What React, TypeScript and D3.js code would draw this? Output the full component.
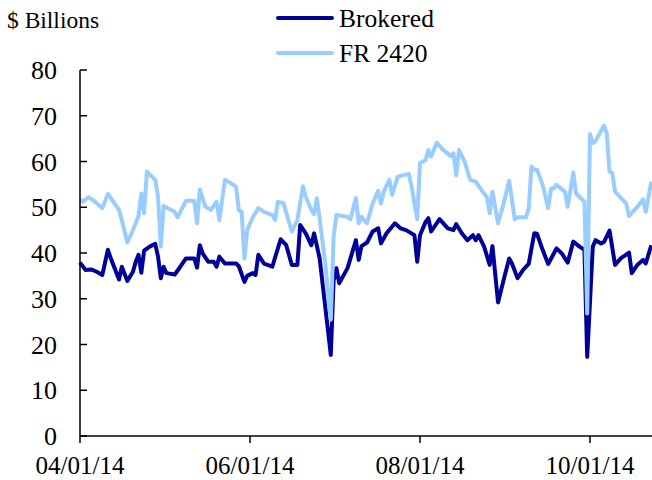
import React from "react";
import * as d3 from "d3";

const brokeredDates = ["2014-04-01","2014-04-03","2014-04-05","2014-04-07","2014-04-09","2014-04-11","2014-04-12","2014-04-15","2014-04-16","2014-04-18","2014-04-20","2014-04-21","2014-04-22","2014-04-23","2014-04-24","2014-04-26","2014-04-28","2014-04-29","2014-04-30","2014-05-01","2014-05-02","2014-05-05","2014-05-07","2014-05-09","2014-05-12","2014-05-13","2014-05-14","2014-05-15","2014-05-17","2014-05-19","2014-05-20","2014-05-21","2014-05-23","2014-05-27","2014-05-28","2014-05-30","2014-05-31","2014-06-02","2014-06-03","2014-06-04","2014-06-06","2014-06-09","2014-06-12","2014-06-14","2014-06-16","2014-06-18","2014-06-19","2014-06-21","2014-06-23","2014-06-24","2014-06-26","2014-06-30","2014-07-01","2014-07-02","2014-07-03","2014-07-06","2014-07-09","2014-07-10","2014-07-11","2014-07-13","2014-07-15","2014-07-17","2014-07-18","2014-07-20","2014-07-23","2014-07-25","2014-07-27","2014-07-30","2014-07-31","2014-08-01","2014-08-03","2014-08-04","2014-08-05","2014-08-08","2014-08-11","2014-08-13","2014-08-14","2014-08-16","2014-08-18","2014-08-20","2014-08-21","2014-08-22","2014-08-24","2014-08-26","2014-08-27","2014-08-29","2014-08-31","2014-09-02","2014-09-03","2014-09-05","2014-09-07","2014-09-09","2014-09-11","2014-09-12","2014-09-14","2014-09-16","2014-09-19","2014-09-21","2014-09-23","2014-09-25","2014-09-27","2014-09-29","2014-09-30","2014-10-02","2014-10-03","2014-10-05","2014-10-06","2014-10-08","2014-10-10","2014-10-12","2014-10-15","2014-10-16","2014-10-18","2014-10-20","2014-10-21","2014-10-23"];
const brokeredValues = [37.9,36.3,36.4,35.9,35.2,40.7,38.9,34.2,37.0,33.9,35.9,38.1,39.6,35.7,40.5,41.4,42.0,39.2,34.5,37.0,35.6,35.3,37.0,38.8,38.8,36.8,41.7,39.9,38.1,38.1,37.0,39.2,37.7,37.7,37.1,33.7,35.0,35.6,35.2,39.6,37.7,37.0,43.0,41.7,37.4,37.4,46.1,44.3,41.7,44.3,38.8,17.7,34.0,36.7,33.4,36.7,42.8,38.5,41.5,42.3,44.7,45.4,42.1,44.3,46.5,45.4,45.0,43.9,38.1,43.9,46.8,47.6,44.7,47.4,45.4,45.0,46.3,44.3,42.8,43.9,42.8,43.9,41.4,37.4,41.5,29.2,34.1,38.8,37.7,34.5,36.3,37.6,44.3,44.2,40.7,37.6,41.0,39.8,37.9,42.5,41.5,40.7,17.3,41.4,42.8,42.1,42.4,44.9,37.4,38.8,40.1,35.6,37.4,38.5,37.7,41.7];

const fr2420Dates = ["2014-04-01","2014-04-02","2014-04-04","2014-04-06","2014-04-09","2014-04-11","2014-04-13","2014-04-15","2014-04-16","2014-04-18","2014-04-20","2014-04-22","2014-04-23","2014-04-24","2014-04-25","2014-04-26","2014-04-28","2014-04-29","2014-04-30","2014-05-01","2014-05-03","2014-05-05","2014-05-06","2014-05-09","2014-05-12","2014-05-13","2014-05-14","2014-05-16","2014-05-18","2014-05-20","2014-05-21","2014-05-23","2014-05-25","2014-05-27","2014-05-28","2014-05-29","2014-05-30","2014-05-31","2014-06-02","2014-06-04","2014-06-06","2014-06-09","2014-06-10","2014-06-11","2014-06-13","2014-06-16","2014-06-18","2014-06-20","2014-06-21","2014-06-23","2014-06-24","2014-06-25","2014-06-26","2014-06-28","2014-06-30","2014-07-01","2014-07-02","2014-07-06","2014-07-07","2014-07-09","2014-07-10","2014-07-11","2014-07-13","2014-07-15","2014-07-17","2014-07-18","2014-07-19","2014-07-21","2014-07-22","2014-07-24","2014-07-28","2014-07-29","2014-07-31","2014-08-01","2014-08-03","2014-08-04","2014-08-05","2014-08-07","2014-08-09","2014-08-12","2014-08-13","2014-08-14","2014-08-15","2014-08-17","2014-08-19","2014-08-21","2014-08-23","2014-08-25","2014-08-26","2014-08-27","2014-08-29","2014-08-31","2014-09-02","2014-09-04","2014-09-05","2014-09-08","2014-09-09","2014-09-10","2014-09-11","2014-09-12","2014-09-14","2014-09-16","2014-09-17","2014-09-18","2014-09-19","2014-09-22","2014-09-23","2014-09-25","2014-09-26","2014-09-29","2014-09-30","2014-10-01","2014-10-02","2014-10-03","2014-10-06","2014-10-07","2014-10-08","2014-10-09","2014-10-10","2014-10-14","2014-10-15","2014-10-18","2014-10-20","2014-10-21","2014-10-23"];
const fr2420Values = [51.6,51.2,52.2,51.4,49.8,52.9,51.2,49.4,47.2,42.3,45.0,48.1,53.0,48.7,57.8,57.2,56.0,52.3,41.4,50.3,49.6,49.0,47.8,51.4,51.4,46.5,53.9,50.1,49.4,51.2,47.2,56.0,55.3,54.5,49.4,49.0,38.8,45.0,47.8,49.8,49.0,48.3,47.2,51.2,50.9,44.7,47.2,54.6,52.3,49.4,48.5,52.0,47.4,37.7,25.4,43.6,48.3,47.9,47.4,52.0,46.5,47.9,46.5,50.8,53.6,50.8,53.4,56.0,52.7,56.7,57.3,54.5,47.4,59.6,60.3,62.5,61.1,64.1,62.7,61.2,61.8,57.0,62.5,60.0,56.0,55.6,53.8,52.2,48.7,53.4,46.5,50.8,55.8,47.4,47.8,47.8,49.8,58.9,58.2,58.2,54.9,49.8,54.1,54.1,54.9,53.4,50.1,57.6,53.0,51.2,26.8,66.0,64.0,64.5,67.8,66.2,57.8,57.5,53.4,50.8,48.1,50.1,51.7,49.0,55.6];

const yTicks = [0, 10, 20, 30, 40, 50, 60, 70, 80];
const xTickDates = ["2014-04-01", "2014-06-01", "2014-08-01", "2014-10-01"];
const seriesNames = ["Brokered", "FR 2420"];
const yUnitLabel = "$ Billions";

const W = 652;
const H = 480;
const FONT = "'Liberation Serif', 'Times New Roman', Times, serif";
const DARK = "#000099";
const LIGHT = "#99CCFF";

const parse = d3.utcParse("%Y-%m-%d");
const fmt = d3.utcFormat("%m/%d/%y");

export default function App() {
  const x = d3
    .scaleUtc()
    .domain([parse("2014-04-01")!, parse("2014-10-01")!])
    .range([80, 590]);
  const y = d3.scaleLinear().domain([0, 80]).range([436, 70]);

  const brokered = brokeredDates.map((d, i) => ({ date: parse(d)!, value: brokeredValues[i] }));
  const fr = fr2420Dates.map((d, i) => ({ date: parse(d)!, value: fr2420Values[i] }));

  const line = d3
    .line<{ date: Date; value: number }>()
    .x((d) => x(d.date))
    .y((d) => y(d.value));

  return (
    <svg
      width={W}
      height={H}
      style={{ position: "absolute", left: 0, top: 0, background: "#fff" }}
      fontFamily={FONT}
    >
      <rect x={0} y={0} width={W} height={H} fill="#fff" />
      <text x={7} y={28} fontSize={23.5} fill="#000">
        {yUnitLabel}
      </text>

      {/* legend */}
      <line x1={278} x2={332} y1={18} y2={18} stroke={DARK} strokeWidth={4} strokeLinecap="round" />
      <text x={339} y={27} fontSize={25.5} fill="#000">
        {seriesNames[0]}
      </text>
      <line x1={278} x2={332} y1={53} y2={53} stroke={LIGHT} strokeWidth={4} strokeLinecap="round" />
      <text x={339} y={62} fontSize={25.5} fill="#000">
        {seriesNames[1]}
      </text>

      {/* series */}
      <path d={line(brokered) || ""} fill="none" stroke={DARK} strokeWidth={4} strokeLinejoin="round" />
      <path d={line(fr) || ""} fill="none" stroke={LIGHT} strokeWidth={4} strokeLinejoin="round" />

      {/* y axis */}
      <line x1={80} x2={80} y1={y(80)} y2={y(0)} stroke="#000" strokeWidth={1.5} />
      {yTicks.map((t) => (
        <g key={t}>
          <line x1={80} x2={87} y1={y(t)} y2={y(t)} stroke="#000" strokeWidth={1.5} />
          <text x={57} y={y(t)} dy="0.35em" textAnchor="end" fontSize={26} fill="#000">
            {t}
          </text>
        </g>
      ))}

      {/* x axis */}
      <line x1={80} x2={W} y1={y(0)} y2={y(0)} stroke="#000" strokeWidth={1.5} />
      {xTickDates.map((d) => {
        const xx = x(parse(d)!);
        return (
          <g key={d}>
            <line x1={xx} x2={xx} y1={y(0)} y2={y(0) + 7} stroke="#000" strokeWidth={1.5} />
            <text x={xx} y={474} textAnchor="middle" fontSize={25} fill="#000">
              {fmt(parse(d)!)}
            </text>
          </g>
        );
      })}
    </svg>
  );
}
